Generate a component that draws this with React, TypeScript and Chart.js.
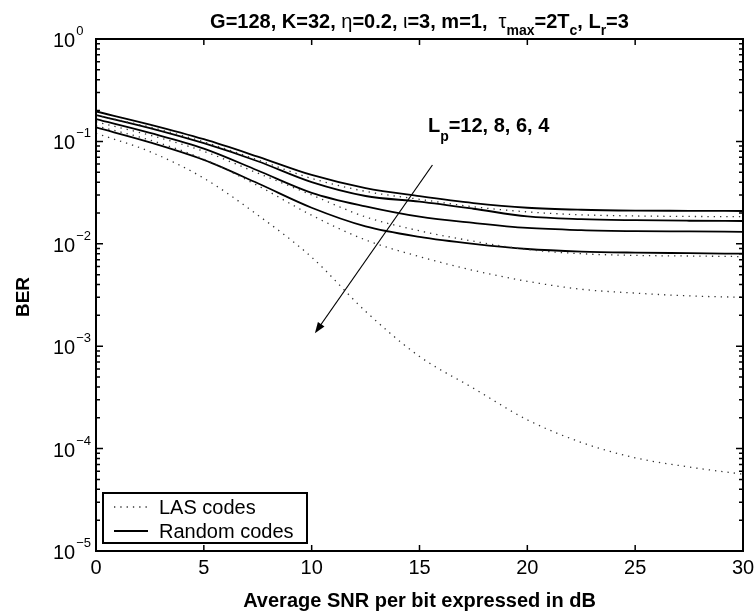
import React, { useEffect, useRef } from 'react';
import { Chart, registerables } from 'chart.js';

Chart.register(...registerables);

const FONT = '"Liberation Sans", Arial, Helvetica, sans-serif';

// SNR per bit (dB)
const snr = [0, 2.5, 5, 7.5, 10, 12.5, 15, 17.5, 20, 22.5, 25, 27.5, 30];

// Random codes, Lp = 12, 8, 6, 4
const rand12 = [0.196, 0.146, 0.105, 0.071, 0.047, 0.035, 0.0292, 0.025, 0.0225, 0.0215, 0.0211, 0.021, 0.0209];
const rand8 = [0.181, 0.135, 0.096, 0.064, 0.04, 0.0293, 0.0258, 0.022, 0.0185, 0.0174, 0.017, 0.0168, 0.0167];
const rand6 = [0.165, 0.121, 0.085, 0.052, 0.0315, 0.0232, 0.0184, 0.016, 0.0143, 0.0136, 0.0133, 0.0132, 0.0131];
const rand4 = [0.137, 0.098, 0.066, 0.039, 0.0225, 0.0148, 0.0117, 0.01, 0.0089, 0.0084, 0.0082, 0.0081, 0.008];

// LAS codes, Lp = 12, 8, 6, 4
const las12 = [0.18, 0.138, 0.099, 0.066, 0.0435, 0.0325, 0.0272, 0.023, 0.0205, 0.0192, 0.0187, 0.0185, 0.0184];
const las8 = [0.155, 0.115, 0.08, 0.049, 0.03, 0.0183, 0.0134, 0.0106, 0.0088, 0.008, 0.0077, 0.0076, 0.0075];
const las6 = [0.142, 0.103, 0.067, 0.037, 0.019, 0.0109, 0.0075, 0.0055, 0.0043, 0.0036, 0.0033, 0.0031, 0.003];
const las4 = [0.12, 0.0794, 0.0437, 0.0191, 0.0074, 0.00219, 0.000794, 0.000389, 0.000191, 0.000115, 0.0000813, 0.0000661, 0.0000562];

// Axis ticks
const xTickValues = [0, 5, 10, 15, 20, 25, 30];
const yDecadeExponents = [0, -1, -2, -3, -4, -5];

// Annotation (data coordinates)
const arrowFrom = [15.6, 0.0588];
const arrowTo = [10.15, 0.00134];
const labelAt = [15.39, 0.124];

const legendLabels = ['LAS codes', 'Random codes'];
const xTitle = 'Average SNR per bit expressed in dB';
const yTitle = 'BER';

type Seg = { t: string; sub?: boolean; normal?: boolean };

const titleSegs: Seg[] = [
  { t: 'G=128, K=32, ' },
  { t: 'η', normal: true },
  { t: '=0.2, ' },
  { t: 'ι', normal: true },
  { t: '=3, m=1,  ' },
  { t: 'τ', normal: true },
  { t: 'max', sub: true },
  { t: '=2T' },
  { t: 'c', sub: true },
  { t: ', L' },
  { t: 'r', sub: true },
  { t: '=3' },
];

const lpSegs: Seg[] = [{ t: 'L' }, { t: 'p', sub: true }, { t: '=12, 8, 6, 4' }];

function drawRich(ctx: CanvasRenderingContext2D, segs: Seg[], x: number, y: number, size: number, subSize: number, drop: number, align: 'center' | 'left') {
  const fontOf = (s: Seg) => `${s.normal ? '' : 'bold '}${s.sub ? subSize : size}px ${FONT}`;
  let total = 0;
  const widths = segs.map((s) => {
    ctx.font = fontOf(s);
    const w = ctx.measureText(s.t).width;
    total += w;
    return w;
  });
  let cx = align === 'center' ? x - total / 2 : x;
  ctx.textAlign = 'left';
  ctx.textBaseline = 'alphabetic';
  segs.forEach((s, i) => {
    ctx.font = fontOf(s);
    ctx.fillText(s.t, cx, s.sub ? y + drop : y);
    cx += widths[i];
  });
}

const SOLID_W = 1.8;
const DOT_W = 1.3;
const DOT_DASH = [1.3, 5];
const DOT_COLOR = '#333';

const decor = {
  id: 'decor',
  afterDatasetsDraw(chart: any) {
    const { ctx, chartArea: a, scales } = chart;
    const x = scales.x;
    const y = scales.y;
    ctx.save();
    ctx.strokeStyle = '#000';
    ctx.fillStyle = '#000';
    ctx.setLineDash([]);

    // tick marks (inward, all four sides)
    ctx.lineWidth = 1.5;
    ctx.beginPath();
    for (const v of xTickValues) {
      const px = x.getPixelForValue(v);
      ctx.moveTo(px, a.bottom);
      ctx.lineTo(px, a.bottom - 6);
      ctx.moveTo(px, a.top);
      ctx.lineTo(px, a.top + 6);
    }
    for (const e of yDecadeExponents) {
      const py = y.getPixelForValue(Math.pow(10, e));
      ctx.moveTo(a.left, py);
      ctx.lineTo(a.left + 7, py);
      ctx.moveTo(a.right, py);
      ctx.lineTo(a.right - 7, py);
      if (e > -5) {
        for (let d = 2; d <= 9; d++) {
          const pm = y.getPixelForValue(d * Math.pow(10, e - 1));
          ctx.moveTo(a.left, pm);
          ctx.lineTo(a.left + 4, pm);
          ctx.moveTo(a.right, pm);
          ctx.lineTo(a.right - 4, pm);
        }
      }
    }
    ctx.stroke();

    // arrow
    const ax0 = x.getPixelForValue(arrowFrom[0]);
    const ay0 = y.getPixelForValue(arrowFrom[1]);
    const ax1 = x.getPixelForValue(arrowTo[0]);
    const ay1 = y.getPixelForValue(arrowTo[1]);
    const ang = Math.atan2(ay1 - ay0, ax1 - ax0);
    const hl = 11;
    const hw = 4;
    ctx.lineWidth = 1.2;
    ctx.beginPath();
    ctx.moveTo(ax0, ay0);
    ctx.lineTo(ax1 - Math.cos(ang) * hl * 0.8, ay1 - Math.sin(ang) * hl * 0.8);
    ctx.stroke();
    const bx = ax1 - Math.cos(ang) * hl;
    const by = ay1 - Math.sin(ang) * hl;
    ctx.beginPath();
    ctx.moveTo(ax1, ay1);
    ctx.lineTo(bx + Math.sin(ang) * hw, by - Math.cos(ang) * hw);
    ctx.lineTo(bx - Math.sin(ang) * hw, by + Math.cos(ang) * hw);
    ctx.closePath();
    ctx.fill();

    // Lp label
    drawRich(ctx, lpSegs, x.getPixelForValue(labelAt[0]), y.getPixelForValue(labelAt[1]), 20, 14, 9.5, 'left');

    // legend
    const lx = 103, ly = 493, lw = 204, lh = 50;
    ctx.fillStyle = '#fff';
    ctx.fillRect(lx, ly, lw, lh);
    ctx.lineWidth = 2;
    ctx.strokeStyle = '#000';
    ctx.strokeRect(lx, ly, lw, lh);
    ctx.beginPath();
    ctx.strokeStyle = DOT_COLOR;
    ctx.lineWidth = DOT_W;
    ctx.setLineDash(DOT_DASH);
    ctx.moveTo(114, 507);
    ctx.lineTo(150, 507);
    ctx.stroke();
    ctx.setLineDash([]);
    ctx.beginPath();
    ctx.strokeStyle = '#000';
    ctx.lineWidth = SOLID_W;
    ctx.moveTo(114, 531);
    ctx.lineTo(148, 531);
    ctx.stroke();
    ctx.fillStyle = '#000';
    ctx.font = `20px ${FONT}`;
    ctx.textAlign = 'left';
    ctx.textBaseline = 'alphabetic';
    ctx.fillText(legendLabels[0], 159, 514);
    ctx.fillText(legendLabels[1], 159, 538);

    // axes box
    ctx.lineWidth = 2;
    ctx.strokeRect(a.left, a.top, a.right - a.left, a.bottom - a.top);
    ctx.restore();
  },
  afterDraw(chart: any) {
    const { ctx, chartArea: a, scales } = chart;
    const x = scales.x;
    const y = scales.y;
    ctx.save();
    ctx.fillStyle = '#000';
    ctx.textBaseline = 'alphabetic';

    // y tick labels 10^k
    for (const e of yDecadeExponents) {
      const py = y.getPixelForValue(Math.pow(10, e));
      ctx.font = `20px ${FONT}`;
      ctx.textAlign = 'left';
      ctx.fillText('10', 53, py + 8);
      const w = ctx.measureText('10').width;
      ctx.font = `13px ${FONT}`;
      ctx.fillText(e === 0 ? '0' : '−' + String(-e), 53 + w + 1, py - 4);
    }

    // x tick labels
    ctx.font = `20px ${FONT}`;
    ctx.textAlign = 'center';
    for (const v of xTickValues) {
      ctx.fillText(String(v), x.getPixelForValue(v), 574);
    }

    // x title
    ctx.font = `bold 20px ${FONT}`;
    ctx.fillText(xTitle, (a.left + a.right) / 2, 607);

    // y title
    ctx.save();
    ctx.translate(28.5, (a.top + a.bottom) / 2 + 2);
    ctx.rotate(-Math.PI / 2);
    ctx.font = `bold 19px ${FONT}`;
    ctx.textAlign = 'center';
    ctx.fillText(yTitle, 0, 0);
    ctx.restore();

    // title
    drawRich(ctx, titleSegs, (a.left + a.right) / 2, 28, 20, 14, 7, 'center');
    ctx.restore();
  },
};

function pts(vals: number[]) {
  return snr.map((s, i) => ({ x: s, y: vals[i] }));
}

export default function App() {
  const ref = useRef<HTMLCanvasElement | null>(null);

  useEffect(() => {
    if (!ref.current) return;
    const dotted = (label: string, vals: number[]) => ({
      label,
      data: pts(vals),
      borderColor: DOT_COLOR,
      borderWidth: DOT_W,
      borderDash: DOT_DASH,
      pointRadius: 0,
      fill: false,
      cubicInterpolationMode: 'monotone' as const,
    });
    const solid = (label: string, vals: number[]) => ({
      label,
      data: pts(vals),
      borderColor: '#000',
      borderWidth: SOLID_W,
      pointRadius: 0,
      fill: false,
      cubicInterpolationMode: 'monotone' as const,
    });
    const chart = new Chart(ref.current, {
      type: 'line',
      data: {
        datasets: [
          dotted('LAS Lp=12', las12),
          dotted('LAS Lp=8', las8),
          dotted('LAS Lp=6', las6),
          dotted('LAS Lp=4', las4),
          solid('Random Lp=12', rand12),
          solid('Random Lp=8', rand8),
          solid('Random Lp=6', rand6),
          solid('Random Lp=4', rand4),
        ],
      },
      options: {
        responsive: false,
        animation: false,
        devicePixelRatio: 1,
        layout: { padding: { left: 0, right: 13, top: 39, bottom: 0 } },
        plugins: {
          legend: { display: false },
          title: { display: false },
          tooltip: { enabled: false },
        },
        scales: {
          x: {
            type: 'linear',
            min: 0,
            max: 30,
            ticks: { display: false, stepSize: 5 },
            grid: { display: false },
            border: { display: false },
            afterFit: (s: any) => {
              s.height = 65;
            },
          },
          y: {
            type: 'logarithmic',
            min: 1e-5,
            max: 1,
            ticks: { display: false },
            grid: { display: false },
            border: { display: false },
            afterFit: (s: any) => {
              s.width = 96;
            },
          },
        },
      },
      plugins: [decor],
    });
    return () => chart.destroy();
  }, []);

  return (
    <div style={{ position: 'absolute', left: 0, top: 0, width: 756, height: 616, background: '#fff' }}>
      <canvas ref={ref} width={756} height={616} style={{ width: 756, height: 616, display: 'block' }} />
    </div>
  );
}
